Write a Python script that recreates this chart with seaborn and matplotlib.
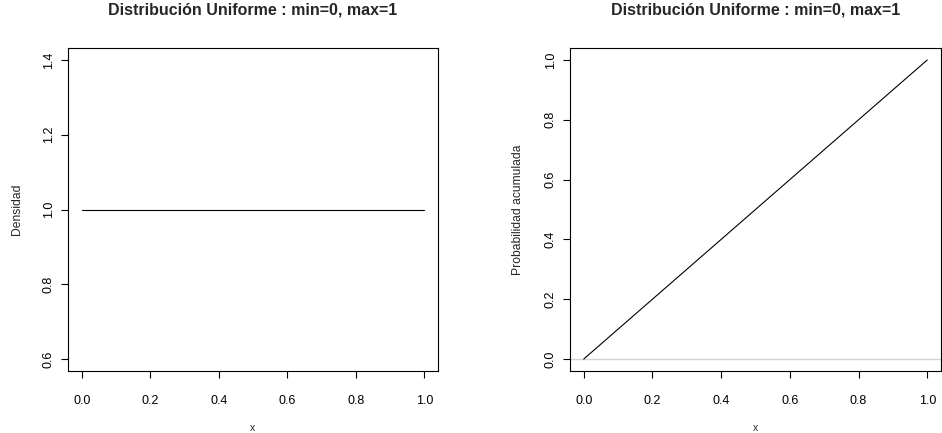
import matplotlib
matplotlib.use("Agg")
import matplotlib.pyplot as plt
import seaborn as sns
import pandas as pd

# Uniform(0, 1): density and cumulative probability
x_vals = [0.0, 1.0]
densidad = [1.0, 1.0]
prob_acum = [0.0, 1.0]

dens_ticks = [0.6, 0.8, 1.0, 1.2, 1.4]
cdf_ticks = [0.0, 0.2, 0.4, 0.6, 0.8, 1.0]
x_ticks = [0.0, 0.2, 0.4, 0.6, 0.8, 1.0]

titulo = "Distribución Uniforme : min=0, max=1"

sns.set_style("ticks")
plt.rcParams["font.family"] = ["Liberation Sans", "DejaVu Sans"]

df = pd.DataFrame({"x": x_vals, "densidad": densidad, "acum": prob_acum})

fig = plt.figure(figsize=(9.42, 4.33), dpi=100)
W, H = 942, 433


def make_axes(x0, x1, y0, y1):
    return fig.add_axes([x0 / W, (H - y1) / H, (x1 - x0) / W, (y1 - y0) / H])


ax1 = make_axes(68, 438, 48, 371)
ax2 = make_axes(570, 941, 48, 371)

sns.lineplot(data=df, x="x", y="densidad", ax=ax1, color="black", linewidth=0.8)
ax2.axhline(0, color="#d3d3d3", linewidth=1.0, zorder=1)
sns.lineplot(data=df, x="x", y="acum", ax=ax2, color="black", linewidth=0.8, zorder=2)

for ax, yt, ylab in [(ax1, dens_ticks, "Densidad"), (ax2, cdf_ticks, "Probabilidad acumulada")]:
    lo, hi = yt[0], yt[-1]
    pad = (hi - lo) * 0.04
    ax.set_ylim(lo - pad, hi + pad)
    ax.set_xlim(-0.04, 1.04)
    ax.set_xticks(x_ticks)
    ax.set_xticklabels([f"{v:.1f}" for v in x_ticks])
    ax.set_yticks(yt)
    ax.set_yticklabels([f"{v:.1f}" for v in yt], rotation=90, va="center")
    ax.tick_params(axis="both", direction="out", length=5, width=0.8,
                   labelsize=9, color="black", labelcolor="black")
    ax.tick_params(axis="x", pad=12)
    ax.tick_params(axis="y", pad=4.5)
    for s in ax.spines.values():
        s.set_visible(True)
        s.set_color("black")
        s.set_linewidth(0.8)
    ax.set_xlabel("x", fontsize=7.5)
    ax.xaxis.set_label_coords(0.5, -0.176)
    ax.xaxis.label.set_va("center")
    ax.set_ylabel(ylab, fontsize=8.7)
    ax.yaxis.label.set_va("center")
    ax.set_title(titulo, fontsize=11.5, fontweight="bold", y=1.093, va="center")
    ax.grid(False)

ax1.yaxis.set_label_coords(-0.138, 0.5)
ax2.yaxis.set_label_coords(-0.140, 0.5)

fig.savefig("out.png", dpi=100, facecolor="white")
